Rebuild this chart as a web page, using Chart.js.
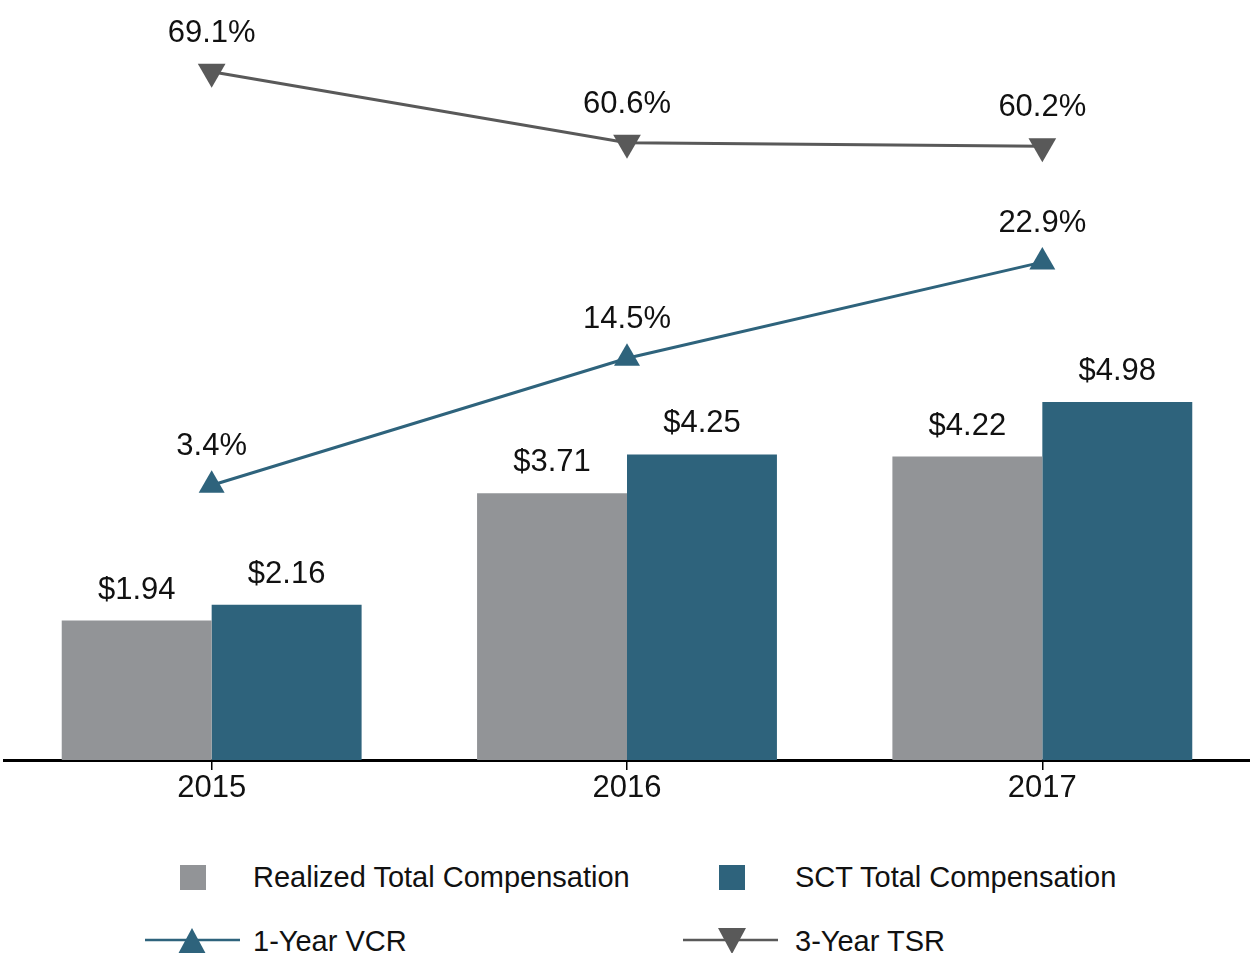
<!DOCTYPE html>
<html>
<head>
<meta charset="utf-8">
<script src="https://cdn.jsdelivr.net/npm/chart.js@4.4.0/dist/chart.umd.min.js"></script>
<style>
  body { margin: 0; background: #fff; font-family: "Liberation Sans", Arial, sans-serif; }
  #wrap { position: relative; width: 1250px; height: 953px; overflow: hidden; }
  #chartBox { position: absolute; left: 0; top: 0; width: 1250px; height: 820px; }
  .lg { position: absolute; font-size: 29px; color: #111; white-space: nowrap; line-height: 1; }
  .sw { position: absolute; width: 26px; height: 25px; }
</style>
</head>
<body>
<div id="wrap">
  <div id="chartBox"><canvas id="compChart"></canvas></div>
  <div class="sw" style="left:180px; top:865px; background:#929497;"></div>
  <div class="lg" style="left:253px; top:863px;">Realized Total Compensation</div>
  <div class="sw" style="left:719px; top:865px; background:#2e637c;"></div>
  <div class="lg" style="left:795px; top:863px;">SCT Total Compensation</div>
  <svg style="position:absolute; left:140px; top:920px;" width="110" height="40">
    <line x1="5" y1="20" x2="100" y2="20" stroke="#2e637c" stroke-width="2.5"/>
    <polygon points="52,8 38,34 66,34" fill="#2e637c"/>
  </svg>
  <div class="lg" style="left:253px; top:927px;">1-Year VCR</div>
  <svg style="position:absolute; left:680px; top:920px;" width="110" height="40">
    <line x1="3" y1="20" x2="98" y2="20" stroke="#595959" stroke-width="2.5"/>
    <polygon points="38,8 66,8 52,34" fill="#595959"/>
  </svg>
  <div class="lg" style="left:795px; top:927px;">3-Year TSR</div>
</div>
<script>
// chart values
const years = ['2015', '2016', '2017'];
const realizedComp = [1.94, 3.71, 4.22];
const sctComp = [2.16, 4.25, 4.98];
const vcr1Year = [3.4, 14.5, 22.9];
const tsr3Year = [69.1, 60.6, 60.2];

const grayColor = '#929497';
const tealColor = '#2e637c';
const darkGray = '#595959';

// draws the value above every bar and point
const valueLabels = {
    id: 'valueLabels',
    afterDatasetsDraw(chart) {
        const ctx = chart.ctx;
        ctx.save();
        ctx.font = '31px "Liberation Sans", Arial, sans-serif';
        ctx.fillStyle = '#111';
        ctx.textAlign = 'center';
        ctx.textBaseline = 'alphabetic';
        chart.data.datasets.forEach((ds, i) => {
            const meta = chart.getDatasetMeta(i);
            meta.data.forEach((el, j) => {
                const v = ds.data[j];
                if (ds.type === 'line') {
                    ctx.fillText(v.toFixed(1) + '%', el.x, el.y - 30);
                } else {
                    ctx.fillText('$' + v.toFixed(2), el.x, el.y - 22);
                }
            });
        });
        ctx.restore();
    }
};

new Chart(document.getElementById('compChart'), {
    type: 'bar',
    data: {
        labels: years,
        datasets: [
            {
                type: 'line',
                label: '3-Year TSR',
                data: tsr3Year,
                yAxisID: 'yTsr',
                borderColor: darkGray,
                backgroundColor: darkGray,
                borderWidth: 3,
                pointStyle: 'triangle',
                rotation: 180,
                pointRadius: 16,
                pointBorderWidth: 0,
                clip: false,
                order: 0
            },
            {
                type: 'line',
                label: '1-Year VCR',
                data: vcr1Year,
                yAxisID: 'yVcr',
                borderColor: tealColor,
                backgroundColor: tealColor,
                borderWidth: 3,
                pointStyle: 'triangle',
                pointRadius: 15,
                pointBorderWidth: 0,
                clip: false,
                order: 0
            },
            {
                label: 'Realized Total Compensation',
                data: realizedComp,
                yAxisID: 'y',
                backgroundColor: grayColor,
                order: 1
            },
            {
                label: 'SCT Total Compensation',
                data: sctComp,
                yAxisID: 'y',
                backgroundColor: tealColor,
                order: 1
            }
        ]
    },
    options: {
        responsive: true,
        maintainAspectRatio: false,
        animation: false,
        layout: { autoPadding: false, padding: { left: 4, right: 0, top: 0, bottom: 0 } },
        datasets: {
            bar: { categoryPercentage: 0.722, barPercentage: 1.0 }
        },
        scales: {
            x: {
                grid: {
                    display: true,
                    drawOnChartArea: false,
                    offset: false,
                    tickLength: 10,
                    color: '#000',
                    lineWidth: 1.5
                },
                border: { display: true, color: '#000', width: 3 },
                ticks: {
                    color: '#111',
                    padding: 0,
                    font: { family: '"Liberation Sans", Arial, sans-serif', size: 31 }
                },
                afterFit: (scale) => { scale.height = 60; }
            },
            y: { display: false, min: 0, max: 10.57 },
            yVcr: { display: false, min: -20.6, max: 45.8 },
            yTsr: { display: false, min: -13.3, max: 77.7 }
        },
        plugins: {
            legend: { display: false },
            tooltip: { enabled: false }
        }
    },
    plugins: [valueLabels]
});
</script>
</body>
</html>
